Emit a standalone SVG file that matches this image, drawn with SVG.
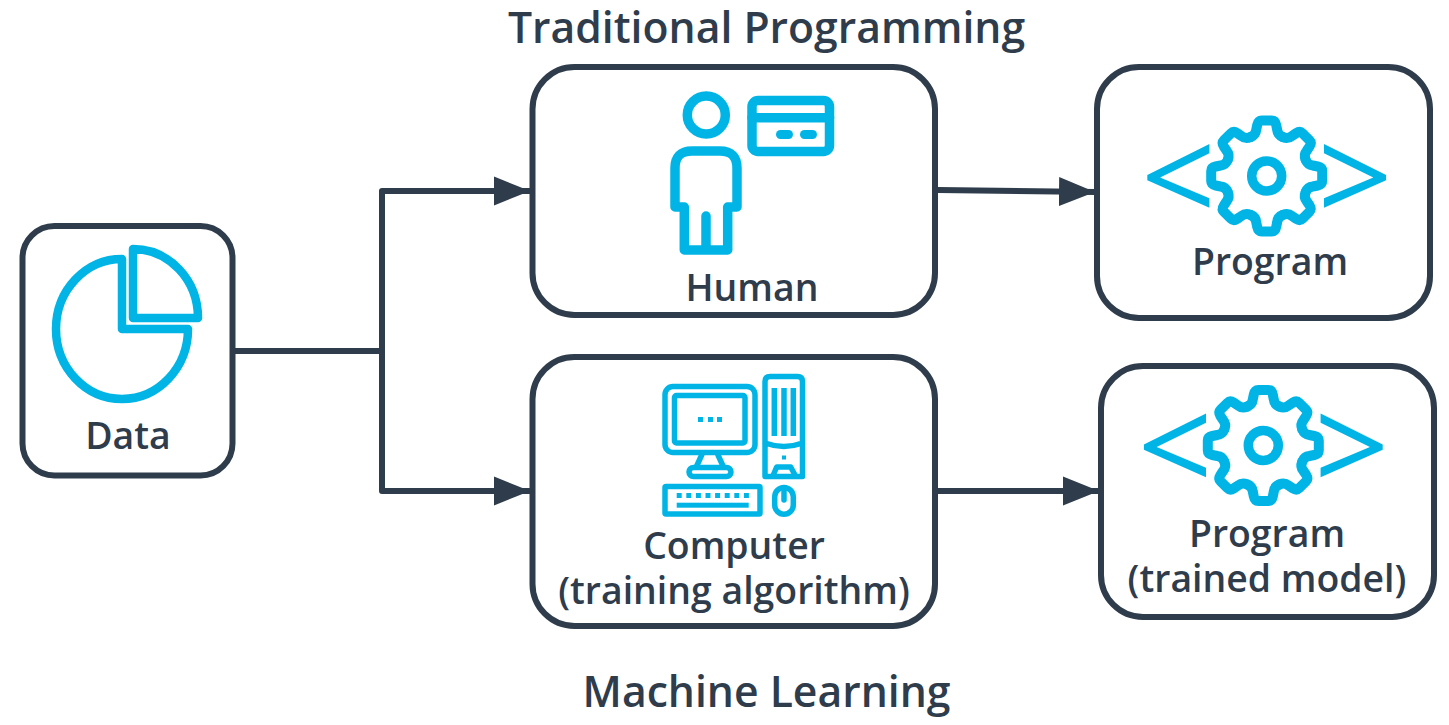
<svg xmlns="http://www.w3.org/2000/svg" width="1449" height="725" viewBox="0 0 1449 725">
<style>
.box{fill:#fff;stroke:#2e3c4b;stroke-width:6}
.ic{fill:none;stroke:#00b5e6;stroke-linejoin:round;stroke-linecap:round}
.w10{stroke-width:10}.w9{stroke-width:9.500}.w8{stroke-width:8.500}.w5{stroke-width:5.500}
.fl{fill:#00b5e6;stroke:none}
.con{fill:none;stroke:#2e3c4b;stroke-width:6;stroke-linejoin:round}
text{font-family:"Open Sans","Noto Sans",sans-serif;font-weight:600;fill:#2e3c4b;text-anchor:middle}
.t{font-size:37.400px}.h{font-size:42.700px}
</style>
<defs>
<marker id="arr" markerUnits="userSpaceOnUse" markerWidth="38" markerHeight="30" refX="36" refY="15" orient="auto"><path d="M0 0.500L36 15L0 29.500Z" fill="#2e3c4b"/></marker>
<path id="tooth" d="M-16 -39Q-11 -41 -10.500 -46L-9.500 -51Q-8.500 -55.500 -5 -55.500L5 -55.500Q8.500 -55.500 9.500 -51L10.500 -46Q11 -41 16 -39"/>
<g id="gear">
<g class="ic w10"><circle r="15" stroke-width="9.500"/>
<use href="#tooth"/><use href="#tooth" transform="rotate(45)"/><use href="#tooth" transform="rotate(90)"/><use href="#tooth" transform="rotate(135)"/><use href="#tooth" transform="rotate(180)"/><use href="#tooth" transform="rotate(225)"/><use href="#tooth" transform="rotate(270)"/><use href="#tooth" transform="rotate(315)"/></g>
<path class="fl" d="M-57.300 -32L-57.300 -22.700L-106.600 1.500L-57.300 22.300L-57.300 31.700L-119.400 4.200L-119.400 -1Z"/>
<path class="fl" d="M57.300 -32L57.300 -22.700L106.600 1.500L57.300 22.300L57.300 31.700L119.400 4.200L119.400 -1Z"/>
</g>
</defs>
<text id="title-top" class="h" x="766.500" y="43">Traditional Programming</text>
<text id="title-bottom" class="h" x="766.500" y="707">Machine Learning</text>
<g id="connectors">
<path class="con" d="M234 351H382"/>
<path class="con" d="M382 351V191H530" marker-end="url(#arr)"/>
<path class="con" d="M382 351V491H530" marker-end="url(#arr)"/>
<path class="con" d="M938 190L1095 192" marker-end="url(#arr)"/>
<path class="con" d="M938 491H1099" marker-end="url(#arr)"/>
</g>
<g id="node-data">
<rect class="box" x="22.500" y="226" width="210" height="249.500" rx="32"/>
<path class="ic w8" d="M122 259A66 70 0 1 0 188 329H122Z"/>
<path class="ic w8" d="M133 249A65 69 0 0 1 198 318H133Z"/>
<text class="t" x="128" y="449">Data</text>
</g>
<g id="node-human">
<rect class="box" x="532.500" y="67" width="402.500" height="248" rx="42"/>
<circle class="ic w9" cx="706.300" cy="115" r="19"/>
<path class="ic w9" d="M684.300 207H675V168Q675 151 692 151H720Q737 151 737 168V207H727.700V250H684.300ZM706 216V250"/>
<rect class="ic w9" x="752" y="100.500" width="77.500" height="51" rx="6"/>
<path class="ic w9" d="M752 117.700H829.500"/>
<rect class="fl" x="776" y="130" width="17" height="9" rx="4.500"/>
<rect class="fl" x="800" y="130" width="17" height="9" rx="4.500"/>
<text class="t" x="752" y="301">Human</text>
</g>
<g id="node-program">
<rect class="box" x="1097" y="67" width="333" height="251" rx="42"/>
<use href="#gear" transform="translate(1266.700 176)"/>
<text class="t" x="1270" y="275">Program</text>
</g>
<g id="node-computer">
<rect class="box" x="532.500" y="357" width="402.500" height="269" rx="42"/>
<g class="ic w5">
<rect x="665" y="386.500" width="90" height="66" rx="8"/>
<rect x="674.500" y="395.500" width="70.500" height="47.500" rx="2"/>
<path d="M701.700 455L696.700 466M718 455L723 466"/>
<rect x="689" y="467.500" width="42" height="9" rx="4.500"/>
<path d="M765 476.500V381.500Q765 376.500 770 376.500H797.500Q802.500 376.500 802.500 381.500V476.500ZM765 443Q784 450 802.500 443"/>
<path d="M774.300 388V436M784 388V436M793.300 388V436" stroke-linecap="butt"/>
<path d="M773.300 475L776.700 467H790.700L795 475"/>
<rect x="665" y="486.500" width="95" height="27.500" rx="1"/>
<rect x="774.700" y="487.500" width="18.600" height="26.700" rx="9.300"/>
<path d="M784 488V500"/>
</g>
<g class="fl">
<rect x="698" y="417" width="5" height="5"/><rect x="708" y="417" width="5" height="5"/><rect x="717" y="417" width="5" height="5"/>
<rect x="782" y="455.500" width="4" height="4"/>
<rect x="676.700" y="493" width="5" height="5"/><rect x="686.300" y="493" width="5" height="5"/><rect x="695.900" y="493" width="5" height="5"/><rect x="705.500" y="493" width="5" height="5"/><rect x="715.100" y="493" width="5" height="5"/><rect x="724.700" y="493" width="5" height="5"/><rect x="734.300" y="493" width="5" height="5"/><rect x="743.900" y="493" width="5" height="5"/>
<rect x="676.700" y="502.700" width="72" height="5"/>
</g>
<text class="t" x="734" y="559">Computer</text>
<text class="t" x="734" y="604">(training algorithm)</text>
</g>
<g id="node-model">
<rect class="box" x="1101" y="366" width="333" height="251" rx="42"/>
<use href="#gear" transform="translate(1263.300 445.500)"/>
<text class="t" x="1267" y="547">Program</text>
<text class="t" x="1267" y="592">(trained model)</text>
</g>
</svg>
